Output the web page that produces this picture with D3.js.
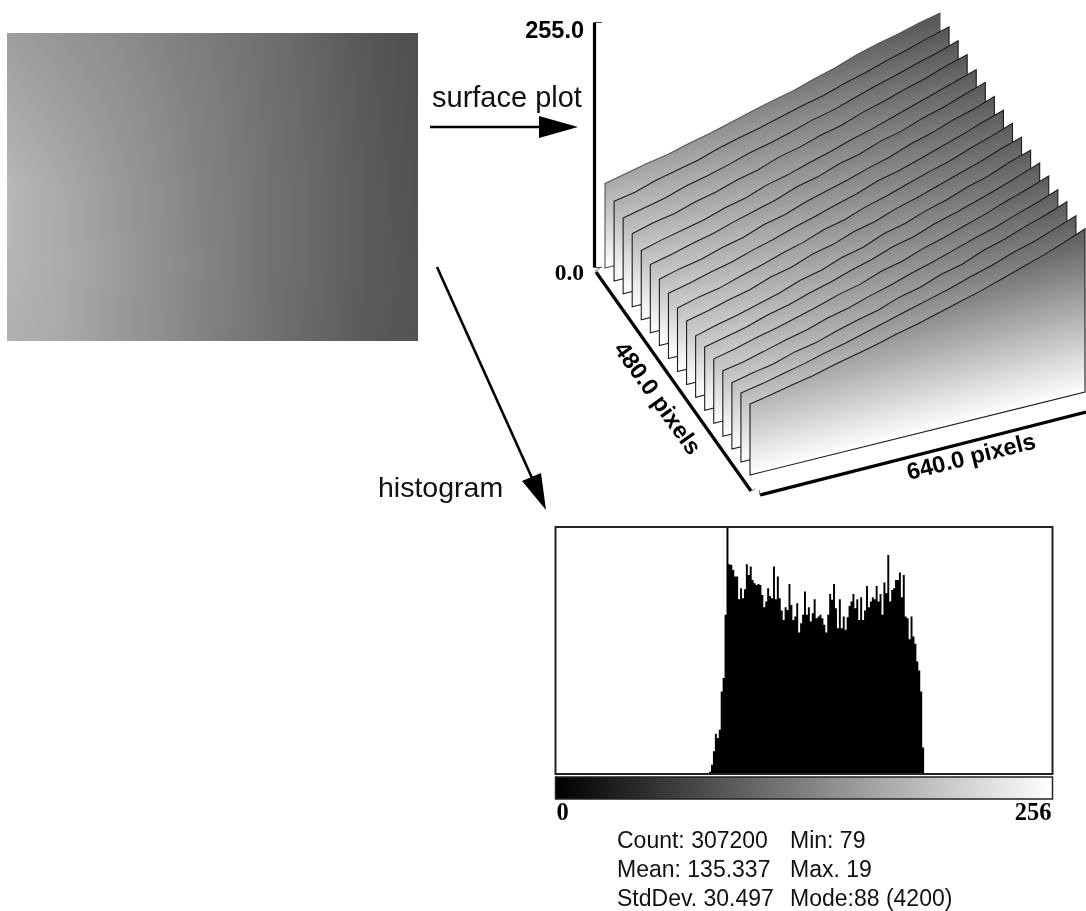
<!DOCTYPE html>
<html><head><meta charset="utf-8">
<script src="https://cdn.jsdelivr.net/npm/d3@7"></script>
<style>
html,body{margin:0;padding:0;background:#fff;}
#wrap{position:relative;width:1086px;height:911px;overflow:hidden;}
canvas{position:absolute;left:7px;top:33px;}
svg{position:absolute;left:0;top:0;}
text{fill:#111;}
</style></head><body><div id="wrap"><canvas id="photo" width="411" height="308"></canvas><svg id="chart" width="1086" height="911"></svg></div>
<script>
// grey levels of the source picture, sampled on a coarse grid
const photoGrey = [
 [158,150,142,132,122,112,100,88,78],
 [170,160,150,138,126,114,102,90,80],
 [184,170,156,142,128,116,104,92,82],
 [182,172,158,144,130,116,104,92,84],
 [176,170,156,142,128,114,102,90,84]
];
// surface plot: elevation along each of 17 profiles, every 40 image pixels, back to front
const profileX = [0,40,80,120,160,200,240,280,320,360,400,440,480,520,560,600,640];
const profiles = [
 [88,93,98,102,108,113,119,125,131,136,143,149,157,163,168,174,179],
 [83,87,94,99,104,111,117,122,128,134,139,146,152,159,165,172,178],
 [79,84,89,96,101,107,114,119,125,132,137,144,151,157,164,170,177],
 [76,82,86,93,98,105,110,118,123,130,135,143,149,156,162,170,176],
 [72,78,83,88,95,100,108,113,120,126,133,139,146,153,160,167,174],
 [71,76,82,87,94,100,106,114,119,127,132,140,145,153,159,167,174],
 [69,75,79,86,91,99,104,112,118,124,131,137,145,151,159,165,173],
 [68,73,79,84,91,97,104,110,117,123,131,136,143,150,157,165,172],
 [66,72,76,83,89,96,102,110,115,123,129,136,143,149,157,164,172],
 [66,71,77,82,90,95,103,108,116,121,129,135,142,149,156,164,171],
 [64,70,75,81,87,95,100,108,113,122,127,135,141,149,155,164,171],
 [66,71,76,83,88,95,101,108,114,122,127,135,141,148,155,163,171],
 [67,72,78,83,89,95,102,107,115,120,128,134,141,148,156,163,171],
 [68,72,78,84,89,96,101,108,114,121,127,134,141,147,155,162,170],
 [69,74,78,85,89,96,102,107,115,120,128,133,142,148,156,163,171],
 [72,76,81,86,92,97,103,109,115,121,127,134,140,148,154,162,170],
 [74,78,83,87,93,98,103,109,114,120,126,132,139,146,153,161,170]
];
// histogram counts for grey levels 79..189
const histStart = 79;
const histCounts = [20,143,371,673,599,742,1398,1627,2711,4200,3578,3567,3481,3367,3367,2979,3167,2996,3150,3578,3396,3538,3310,3253,3224,3242,3224,3053,2842,2939,3167,3036,2996,3538,2979,3367,2996,2785,2625,2842,2796,3242,2882,2625,2682,2911,2408,2568,2711,3110,2711,2842,2597,2739,2979,2654,2682,2711,2654,2540,2408,2711,3070,2968,3242,2825,2483,2979,2483,2682,2454,2671,2865,2939,3070,2825,2979,2625,3013,2625,2785,3207,2842,2939,3013,2979,3207,2939,3070,2711,3264,3082,3738,2939,3139,3167,3310,3310,3436,3013,3396,2682,2654,2294,2682,2340,2214,1912,1758,1398,439];
const histTicks = [0,256];
const axisTicks = [0,255];
const statsCol1 = ["Count: 307200","Mean: 135.337","StdDev. 30.497"];
const statsCol2 = ["Min: 79","Max. 19","Mode:88 (4200)"];

const SANS="'Liberation Sans',Arial,sans-serif", SERIF="'Liberation Serif','Times New Roman',serif";
const svg=d3.select("#chart");
const defs=svg.append("defs");

// ---- source picture
(function(){
 const cv=document.getElementById("photo"),ctx=cv.getContext("2d"),W=cv.width,H=cv.height;
 const img=ctx.createImageData(W,H);
 const cx=d3.scaleLinear([0,W-1],[0,photoGrey[0].length-1]), cy=d3.scaleLinear([0,H-1],[0,photoGrey.length-1]);
 for(let y=0;y<H;y++){const fy=cy(y),r0=Math.min(Math.floor(fy),photoGrey.length-2),ty=fy-r0;
  for(let x=0;x<W;x++){const fx=cx(x),c0=Math.min(Math.floor(fx),photoGrey[0].length-2),tx=fx-c0;
   const v=d3.interpolateNumber(
     d3.interpolateNumber(photoGrey[r0][c0],photoGrey[r0][c0+1])(tx),
     d3.interpolateNumber(photoGrey[r0+1][c0],photoGrey[r0+1][c0+1])(tx))(ty);
   const i=(y*W+x)*4;img.data[i]=img.data[i+1]=img.data[i+2]=v;img.data[i+3]=255;}}
 ctx.putImageData(img,0,0);
})();

// ---- surface plot
const originX=d3.scaleLinear([0,16],[605,750]), originY=d3.scaleLinear([0,16],[268,475]);
const alongX=d3.scaleLinear([0,640],[0,335]), alongY=d3.scaleLinear([0,640],[0,-83]);
const rise=d3.scaleLinear([0,255],[0,245]);
const nx=83/345.1, ny=335/345.1, fullRise=164*ny;

const surf=svg.append("g");
profiles.forEach((p,i)=>{
 const ox=originX(i), oy=originY(i);
 const g=defs.append("linearGradient").attr("id","s"+i).attr("gradientUnits","userSpaceOnUse")
   .attr("x1",ox).attr("y1",oy).attr("x2",ox-nx*fullRise).attr("y2",oy-ny*fullRise);
 g.append("stop").attr("offset",0).attr("stop-color","#ffffff");
 g.append("stop").attr("offset",1).attr("stop-color","#5a5a5a");
 const top=profileX.map((px,k)=>[ox+alongX(px),oy+alongY(px)-rise(p[k])]);
 const bottom=[[ox+alongX(640),oy+alongY(640)],[ox,oy]];
 surf.append("path").attr("d",d3.line()(top.concat(bottom))+"Z")
   .attr("fill",`url(#s${i})`)
   .attr("stroke",i===0?"#555":"#1c1c1c").attr("stroke-width",1.1).attr("stroke-linejoin","miter");
});

// vertical axis
const yAxisScale=d3.scaleLinear([0,255],[267,22]);
const yAxis=svg.append("g").attr("transform","translate(594,0)")
 .call(d3.axisLeft(yAxisScale).tickValues(axisTicks).tickFormat(d3.format(".1f")).tickSizeInner(-8).tickSizeOuter(0).tickPadding(10));
yAxis.select(".domain").attr("stroke","#000").attr("stroke-width",3.2);
yAxis.selectAll(".tick line").attr("stroke","#444").attr("stroke-width",1);
yAxis.selectAll(".tick text")
 .attr("dy",null)
 .style("font-family",d=>d===0?SERIF:SANS).style("font-weight","bold")
 .style("font-size",d=>d===0?"23.5px":"23.5px")
 .attr("y",d=>d===0?12:15).style("fill","#000");

// floor axes
const floor=svg.append("g").attr("stroke","#000").attr("stroke-width",3.2).attr("fill","none");
floor.append("line").attr("x1",596).attr("y1",272).attr("x2",751).attr("y2",491);
floor.append("line").attr("x1",760).attr("y1",495).attr("x2",1086).attr("y2",412);
const stubs=svg.append("g").attr("stroke","#777").attr("stroke-width",1);
stubs.append("line").attr("x1",751).attr("y1",491).attr("x2",755).attr("y2",489);
stubs.append("line").attr("x1",760).attr("y1",495).attr("x2",759).attr("y2",490);
stubs.append("line").attr("x1",595).attr("y1",271).attr("x2",600).attr("y2",268);

svg.append("text").text("480.0 pixels").attr("transform","translate(658,398) rotate(54.5)")
 .attr("text-anchor","middle").attr("dy","0.35em")
 .style("font-family",SANS).style("font-weight","bold").style("font-size","23.5px").style("fill","#000");
svg.append("text").text("640.0 pixels").attr("transform","translate(971,456) rotate(-14)")
 .attr("text-anchor","middle").attr("dy","0.35em")
 .style("font-family",SANS).style("font-weight","bold").style("font-size","23.5px").style("fill","#000");

// ---- annotation arrows
const arrows=svg.append("g");
arrows.append("line").attr("x1",430).attr("y1",127).attr("x2",545).attr("y2",127).attr("stroke","#000").attr("stroke-width",2.6);
arrows.append("path").attr("d",d3.line()([[539,116],[578,127],[539,138]])+"Z").attr("fill","#000");
arrows.append("line").attr("x1",437).attr("y1",267).attr("x2",532).attr("y2",478).attr("stroke","#000").attr("stroke-width",2.6);
arrows.append("path").attr("d",d3.line()([[522,481],[541,473],[546,510]])+"Z").attr("fill","#000");
svg.append("text").text("surface plot").attr("x",432).attr("y",107).style("font-family",SANS).style("font-size","29px");
svg.append("text").text("histogram").attr("x",378).attr("y",497).style("font-family",SANS).style("font-size","28.5px");

// ---- histogram
const hx=d3.scaleLinear([0,256],[556,1052]);
const hy=d3.scaleLinear([0,4200],[773,528]);
const bins=histCounts.map((c,i)=>({level:histStart+i,count:c}));
bins.push({level:histStart+histCounts.length,count:0});
svg.append("path").datum(bins)
 .attr("d",d3.area().curve(d3.curveStepAfter).x(d=>hx(d.level)).y0(hy(0)).y1(d=>hy(d.count)))
 .attr("fill","#000");
svg.append("rect").attr("x",555.5).attr("y",527).attr("width",497).attr("height",247)
 .attr("fill","none").attr("stroke","#222").attr("stroke-width",2);

// grey ramp
const ramp=defs.append("linearGradient").attr("id","ramp");
ramp.append("stop").attr("offset",0).attr("stop-color","#000");
ramp.append("stop").attr("offset",1).attr("stop-color","#fff");
svg.append("rect").attr("x",555.5).attr("y",777).attr("width",497).attr("height",22)
 .attr("fill","url(#ramp)").attr("stroke","#222").attr("stroke-width",1.5);

const rampAxis=svg.append("g").attr("transform","translate(0,799)")
 .call(d3.axisBottom(hx).tickValues(histTicks).tickFormat(d3.format("d")).tickSize(0).tickPadding(0));
rampAxis.select(".domain").remove();
rampAxis.selectAll("text").attr("dy",null).attr("y",21)
 .attr("x",d=>d===0?0:-1)
 .attr("text-anchor",d=>d===0?"start":"end")
 .style("font-family",SERIF).style("font-weight","bold").style("font-size","24.5px").style("fill","#000");

// ---- statistics
const baselines=d3.scaleLinear([0,2],[848,906]);
svg.append("g").selectAll("text").data(statsCol1).join("text").text(d=>d)
 .attr("x",617).attr("y",(d,i)=>baselines(i)).style("font-family",SANS).style("font-size","23px");
svg.append("g").selectAll("text").data(statsCol2).join("text").text(d=>d)
 .attr("x",790).attr("y",(d,i)=>baselines(i)).style("font-family",SANS).style("font-size","23px");
</script></body></html>
